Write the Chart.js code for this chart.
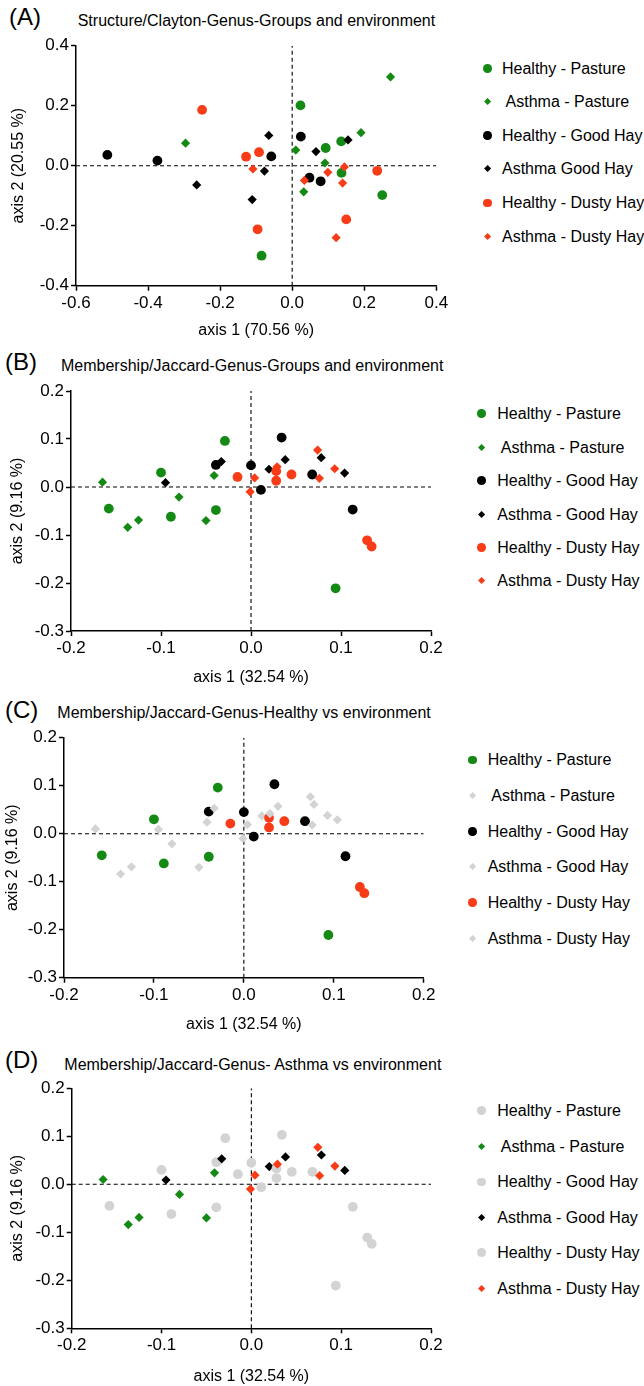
<!DOCTYPE html>
<html><head><meta charset="utf-8">
<script src="https://cdn.jsdelivr.net/npm/chart.js@4/dist/chart.umd.min.js"></script>
<style>
html,body{margin:0;padding:0;background:#fff}
body{width:644px;height:1386px;position:relative;overflow:hidden;font-family:"Liberation Sans",Arial,Helvetica,sans-serif;color:#000}
.t{position:absolute;white-space:pre;line-height:20px;font-size:16px}
.pl{position:absolute;white-space:pre;line-height:28px;font-size:24px}
.mk{position:absolute}
canvas{position:absolute;left:0}
</style></head><body>
<script>
// ---------- DATA ----------
const seriesNamesA = ["Healthy - Pasture", " Asthma - Pasture", "Healthy - Good Hay", "Asthma Good Hay", "Healthy - Dusty Hay", "Asthma - Dusty Hay"];
const seriesNamesJ = ["Healthy - Pasture", " Asthma - Pasture", "Healthy - Good Hay", "Asthma - Good Hay", "Healthy - Dusty Hay", "Asthma - Dusty Hay"];

// Panel A: Structure / Clayton (x = axis 1, y = axis 2)
const clayton_healthyPasture = [[0.023,0.201],[0.136,0.081],[0.093,0.059],[0.137,-0.024],[0.250,-0.098],[-0.085,-0.300]];
const clayton_asthmaPasture  = [[-0.296,0.075],[0.273,0.296],[0.191,0.110],[0.010,0.052],[0.091,0.009],[0.032,-0.087]];
const clayton_healthyGoodHay = [[-0.513,0.036],[-0.374,0.017],[0.024,0.097],[-0.058,0.031],[0.048,-0.040],[0.079,-0.052]];
const clayton_asthmaGoodHay  = [[-0.265,-0.064],[-0.065,0.101],[0.155,0.086],[0.066,0.047],[-0.077,-0.018],[-0.111,-0.113]];
const clayton_healthyDusty   = [[-0.250,0.186],[-0.128,0.030],[-0.092,0.045],[0.236,-0.017],[0.150,-0.179],[-0.096,-0.212]];
const clayton_asthmaDusty    = [[0.145,-0.004],[-0.109,-0.011],[0.099,-0.022],[0.034,-0.049],[0.140,-0.058],[0.122,-0.240]];

// Panels B, C, D: Membership / Jaccard
const jaccard_healthyPasture = [[-0.158,-0.045],[-0.100,0.030],[-0.089,-0.062],[-0.039,-0.048],[-0.029,0.096],[0.094,-0.211]];
const jaccard_asthmaPasture  = [[-0.165,0.010],[-0.137,-0.084],[-0.125,-0.069],[-0.080,-0.021],[-0.050,-0.070],[-0.041,0.024]];
const jaccard_healthyGoodHay = [[-0.039,0.046],[0.034,0.103],[0.000,0.045],[0.068,0.026],[0.011,-0.006],[0.113,-0.047]];
const jaccard_asthmaGoodHay  = [[-0.095,0.009],[-0.033,0.053],[0.078,0.061],[0.038,0.057],[0.020,0.037],[0.104,0.029]];
const jaccard_healthyDusty   = [[-0.015,0.021],[0.028,0.033],[0.045,0.026],[0.028,0.013],[0.129,-0.111],[0.134,-0.124]];
const jaccard_asthmaDusty    = [[0.074,0.077],[0.029,0.042],[0.093,0.038],[0.004,0.019],[0.076,0.018],[-0.001,-0.010]];

const claytonXTicks = [-0.6,-0.4,-0.2,0,0.2,0.4];
const claytonYTicks = [-0.4,-0.2,0,0.2,0.4];
const jaccardXTicks = [-0.2,-0.1,0,0.1,0.2];
const jaccardYTicks = [-0.3,-0.2,-0.1,0,0.1,0.2];

const claytonSeries = [clayton_healthyPasture, clayton_asthmaPasture, clayton_healthyGoodHay, clayton_asthmaGoodHay, clayton_healthyDusty, clayton_asthmaDusty];
const jaccardSeries = [jaccard_healthyPasture, jaccard_asthmaPasture, jaccard_healthyGoodHay, jaccard_asthmaGoodHay, jaccard_healthyDusty, jaccard_asthmaDusty];

// ---------- STYLE ----------
const FONT = '"Liberation Sans", Arial, Helvetica, sans-serif';
const GREEN = '#148a14', BLACK = '#000000', RED = '#f83c17', GRAY = '#d3d3d3';
const shapes = ['circle','rectRot','circle','rectRot','circle','rectRot'];
const CW = 462;

const panels = [
  {tag:'(A)', title:'Structure/Clayton-Genus-Groups and environment', series: claytonSeries, names: seriesNamesA,
   colors:[GREEN,GREEN,BLACK,BLACK,RED,RED], xTicks: claytonXTicks, yTicks: claytonYTicks,
   xTitle:'axis 1 (70.56 %)', yTitle:'axis 2 (20.55 %)',
   L:76, R:436.3, T:45.7, B:285.7, cTop:30, xTitleY:330, yTitleX:18.3,
   tagTop:2.7, tagLeft:9, titleTop:11.2, titleLeft:77.7,
   legMX:487.3, legTX:502, legRows:[68.3,101.7,135.7,169,203,236.3]},
  {tag:'(B)', title:'Membership/Jaccard-Genus-Groups and environment', series: jaccardSeries, names: seriesNamesJ,
   colors:[GREEN,GREEN,BLACK,BLACK,RED,RED], xTicks: jaccardXTicks, yTicks: jaccardYTicks,
   xTitle:'axis 1 (32.54 %)', yTitle:'axis 2 (9.16 %)',
   L:71, R:431, T:391, B:631, cTop:375, xTitleY:677, yTitleX:17.2,
   tagTop:347.7, tagLeft:5, titleTop:356.2, titleLeft:61,
   legMX:481.7, legTX:497.3, legRows:[413.3,447.7,480.7,514.3,547.7,581]},
  {tag:'(C)', title:'Membership/Jaccard-Genus-Healthy vs environment', series: jaccardSeries, names: seriesNamesJ,
   colors:[GREEN,GRAY,BLACK,GRAY,RED,GRAY], xTicks: jaccardXTicks, yTicks: jaccardYTicks,
   xTitle:'axis 1 (32.54 %)', yTitle:'axis 2 (9.16 %)',
   L:64, R:423.7, T:737.7, B:977.7, cTop:722, xTitleY:1024, yTitleX:12.5,
   tagTop:696, tagLeft:5, titleTop:702.8, titleLeft:57.3,
   legMX:472.3, legTX:487.7, legRows:[760,796,831.7,866.7,902.7,938.3]},
  {tag:'(D)', title:'Membership/Jaccard-Genus- Asthma vs environment', series: jaccardSeries, names: seriesNamesJ,
   colors:[GRAY,GREEN,GRAY,BLACK,GRAY,RED], xTicks: jaccardXTicks, yTicks: jaccardYTicks,
   xTitle:'axis 1 (32.54 %)', yTitle:'axis 2 (9.16 %)',
   L:71.7, R:431, T:1088.3, B:1328.3, cTop:1073, xTitleY:1376, yTitleX:17.5,
   tagTop:1046, tagLeft:5, titleTop:1054.5, titleLeft:64.3,
   legMX:481.7, legTX:497.3, legRows:[1110.7,1146.7,1182,1217.7,1252.7,1288.3]}
];

function addText(cls, txt, left, top){
  const d = document.createElement('div');
  d.className = cls; d.textContent = txt;
  d.style.left = left + 'px'; d.style.top = top + 'px';
  document.body.appendChild(d);
}
function addMarker(shape, color, cx, cy){
  const m = document.createElement('div');
  m.className = 'mk';
  if (shape === 'circle') {
    const s = 8.6;
    Object.assign(m.style, {width:s+'px', height:s+'px', borderRadius:'50%', background:color, left:(cx-s/2)+'px', top:(cy-s/2)+'px'});
  } else {
    const s = 5.2;
    Object.assign(m.style, {width:s+'px', height:s+'px', background:color, left:(cx-s/2)+'px', top:(cy-s/2)+'px', transform:'rotate(45deg)'});
  }
  document.body.appendChild(m);
}
const fmt = v => (Math.abs(v) < 1e-9 ? 0 : v).toFixed(1);

panels.forEach(p => {
  addText('pl', p.tag, p.tagLeft, p.tagTop);
  addText('t', p.title, p.titleLeft, p.titleTop);
  p.names.forEach((n, i) => {
    addMarker(shapes[i], p.colors[i], p.legMX, p.legRows[i]);
    addText('t', n, p.legTX, p.legRows[i] - 9.75);
  });

  const cH = Math.round(p.xTitleY + 10 - p.cTop);
  const cv = document.createElement('canvas');
  cv.width = CW; cv.height = cH;
  cv.style.top = p.cTop + 'px';
  cv.style.width = CW + 'px'; cv.style.height = cH + 'px';
  document.body.appendChild(cv);

  const xMin = p.xTicks[0], xMax = p.xTicks[p.xTicks.length-1];
  const yMin = p.yTicks[0], yMax = p.yTicks[p.yTicks.length-1];
  const xAxisH = cH - (p.B - p.cTop);

  const datasets = p.series.map((arr, i) => ({
    label: p.names[i],
    data: arr.map(([x, y]) => ({x, y})),
    pointStyle: shapes[i],
    pointRadius: shapes[i] === 'circle' ? 4.9 : 4.6,
    pointBackgroundColor: p.colors[i],
    pointBorderColor: p.colors[i],
    pointBorderWidth: 0,
    order: -i
  }));
  const dashed = {borderColor:'#000', borderWidth:1.1, borderDash:[4,3], pointRadius:0, showLine:true, order:100, fill:false};
  datasets.push(Object.assign({label:'h0', data:[{x:xMin,y:0},{x:xMax,y:0}]}, dashed));
  datasets.push(Object.assign({label:'v0', data:[{x:0,y:yMin},{x:0,y:yMax}]}, dashed));

  const axisCommon = {
    type:'linear',
    grid:{display:true, drawOnChartArea:false, drawTicks:true, tickLength:5, tickWidth:1.5, tickColor:'#000', color:'#000'},
    border:{display:true, color:'#000', width:1.5},
  };

  new Chart(cv, {
    type:'scatter',
    data:{datasets},
    options:{
      responsive:false, animation:false, devicePixelRatio:1,
      layout:{padding:{left:0, right:CW - p.R, top:p.T - p.cTop, bottom:0}},
      plugins:{legend:{display:false}, tooltip:{enabled:false}, title:{display:false}},
      scales:{
        x: Object.assign({}, axisCommon, {
          position:'bottom', min:xMin, max:xMax,
          afterBuildTicks: s => { s.ticks = p.xTicks.map(v => ({value:v})); },
          afterFit: s => { s.height = xAxisH; },
          ticks:{color:'#000', font:{size:17, family:FONT}, padding:2, autoSkip:false, maxRotation:0, callback: v => fmt(v)},
          title:{display:true, text:p.xTitle, color:'#000', font:{size:16, family:FONT}, padding:{top:0, bottom:0}}
        }),
        y: Object.assign({}, axisCommon, {
          position:'left', min:yMin, max:yMax,
          afterBuildTicks: s => { s.ticks = p.yTicks.map(v => ({value:v})); },
          afterFit: s => { s.width = p.L; },
          ticks:{color:'#000', font:{size:17, family:FONT}, padding:2, autoSkip:false, callback: v => fmt(v)},
          title:{display:true, text:p.yTitle, color:'#000', font:{size:16, family:FONT}, padding:{top:p.yTitleX - 9.6, bottom:0}}
        })
      }
    }
  });
});
</script>
</body></html>
